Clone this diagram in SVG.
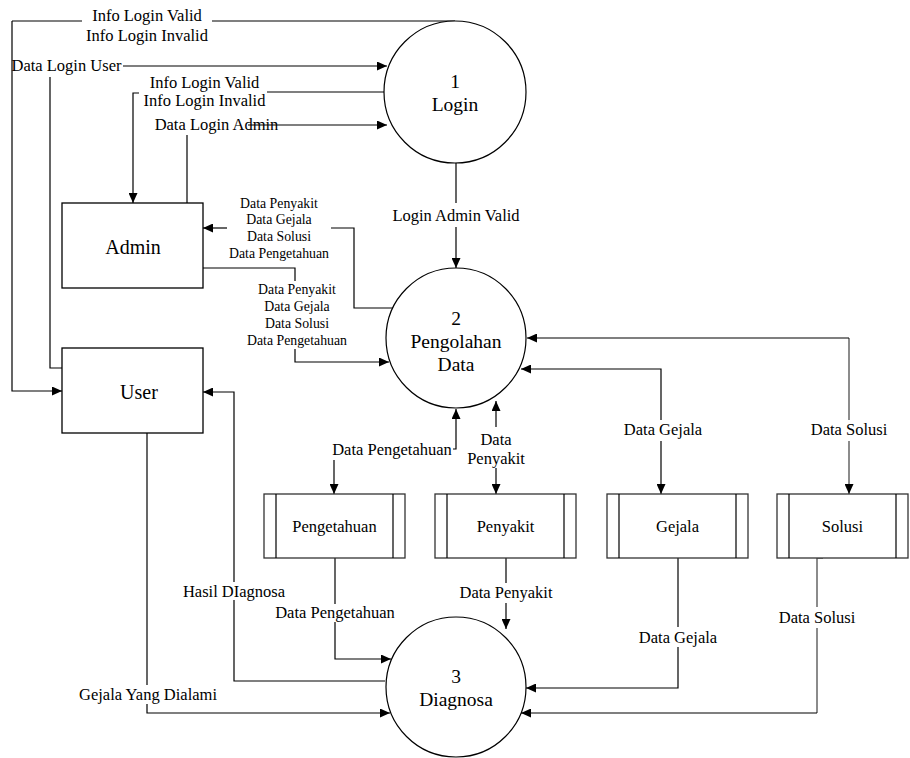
<svg xmlns="http://www.w3.org/2000/svg" width="910" height="758" viewBox="0 0 910 758" font-family="'Liberation Serif', 'DejaVu Serif', serif">
<defs>
<marker id="arr" markerUnits="userSpaceOnUse" markerWidth="11" markerHeight="9" refX="10" refY="4.5" orient="auto">
<path d="M0,0 L10,4.5 L0,9 z" fill="#000"/>
</marker>
<style>
text{font-family:'Liberation Serif','DejaVu Serif',serif;fill:#000;text-anchor:middle}
.lbl{font-size:16.5px}
.sm{font-size:13.8px}
.big{font-size:19.5px}
.ent{font-size:20px}
.box{fill:#fff;stroke:#000;stroke-width:1.3}
.store{fill:#fff;stroke:#333;stroke-width:1.3}
.proc{fill:#fff;stroke:#000;stroke-width:1.2}
.c{fill:none;stroke:#000;stroke-width:1.2}
.g{fill:none;stroke:#666;stroke-width:1.5}
.a{fill:none;stroke:#000;stroke-width:1.2;marker-end:url(#arr)}
</style>
</defs>
<rect width="910" height="758" fill="#fff"/>

<g id="connectors">
<path class="c" d="M455,21 H212 M82,21 H12"/>
<path class="a" d="M12,21 V391 H62"/>
<text class="lbl" x="147" y="21">Info Login Valid</text>
<text class="lbl" x="147" y="41">Info Login Invalid</text>
<path class="c" d="M62,368 H50 V77"/>
<text class="lbl" x="66.5" y="71">Data Login User</text>
<path class="a" d="M123,66 H387"/>
<path class="c" d="M385,92 H267"/>
<path class="a" d="M139,93 H133 V203"/>
<text class="lbl" x="204.5" y="88">Info Login Valid</text>
<text class="lbl" x="204.5" y="106">Info Login Invalid</text>
<path class="c" d="M187,203 V135"/>
<text class="lbl" x="216.5" y="130">Data Login Admin</text>
<path class="a" d="M248,125 H387"/>
<path class="c" d="M456,163 V203"/>
<text class="lbl" x="456" y="221">Login Admin Valid</text>
<path class="a" d="M456,227 V268"/>
<path class="c" d="M393,308 H354 V228 H331"/>
<path class="a" d="M227,228 H203"/>
<text class="sm" x="279" y="208">Data Penyakit</text>
<text class="sm" x="279" y="224">Data Gejala</text>
<text class="sm" x="279" y="241">Data Solusi</text>
<text class="sm" x="279" y="258">Data Pengetahuan</text>
<path class="c" d="M203,268 H295 V281"/>
<text class="sm" x="297" y="294">Data Penyakit</text>
<text class="sm" x="297" y="311">Data Gejala</text>
<text class="sm" x="297" y="328">Data Solusi</text>
<text class="sm" x="297" y="345">Data Pengetahuan</text>
<path class="a" d="M295,349 V362 H389"/>
<path class="a" d="M453,449 H456 V409"/>
<text class="lbl" x="392" y="455">Data Pengetahuan</text>
<path class="a" d="M334,460 V494"/>
<path class="a" d="M496,427 V401"/>
<text class="lbl" x="496" y="445">Data</text>
<text class="lbl" x="496" y="464">Penyakit</text>
<path class="a" d="M496,468 V494"/>
<path class="a" d="M661,420 V369 H521"/>
<text class="lbl" x="663" y="435">Data Gejala</text>
<path class="a" d="M661,441 V494"/>
<path class="g" d="M849,420 V338"/>
<path class="a" d="M849,338 H527"/>
<text class="lbl" x="849" y="435">Data Solusi</text>
<path class="a" d="M849,441 V494" style="stroke:#666;stroke-width:1.5"/>
<path class="c" d="M147,433 V685"/>
<text class="lbl" x="148" y="700">Gejala Yang Dialami</text>
<path class="a" d="M147,704 V713 H390"/>
<path class="c" d="M385,681 H234 V600"/>
<text class="lbl" x="234" y="597">Hasil DIagnosa</text>
<path class="a" d="M234,582 V392 H203"/>
<path class="c" d="M335,558 V604"/>
<text class="lbl" x="335" y="618">Data Pengetahuan</text>
<path class="a" d="M335,622 V659 H391"/>
<path class="c" d="M506,558 V583"/>
<text class="lbl" x="506" y="598">Data Penyakit</text>
<path class="a" d="M506,603 V629"/>
<path class="c" d="M678,558 V627"/>
<text class="lbl" x="678" y="643">Data Gejala</text>
<path class="a" d="M678,647 V688 H526"/>
<path class="g" d="M823,558 H817 V607 M817,628 V713"/>
<text class="lbl" x="817" y="623">Data Solusi</text>
<path class="a" d="M817,713 H521"/>
</g>

<g id="login">
<circle class="proc" cx="455" cy="92" r="71"/>
<text class="big" x="455" y="88">1</text>
<text class="big" x="455" y="111">Login</text>
</g>
<g id="pengolahan">
<circle class="proc" cx="456" cy="338" r="70"/>
<text class="big" x="456" y="325">2</text>
<text class="big" x="456" y="348">Pengolahan</text>
<text class="big" x="456" y="371">Data</text>
</g>
<g id="diagnosa">
<circle class="proc" cx="456" cy="687" r="70"/>
<text class="big" x="456" y="683">3</text>
<text class="big" x="456" y="706">Diagnosa</text>
</g>
<g id="admin">
<rect class="box" x="62" y="203" width="141" height="85"/>
<text class="ent" x="133" y="254">Admin</text>
</g>
<g id="user">
<rect class="box" x="62" y="348" width="141" height="85"/>
<text class="ent" x="139" y="399">User</text>
</g>
<g id="store-pengetahuan">
<rect class="store" x="264" y="494" width="141" height="64"/>
<path class="c" d="M276,494 V558 M393,494 V558"/>
<text class="lbl" x="334.5" y="532">Pengetahuan</text>
</g>
<g id="store-penyakit">
<rect class="store" x="435" y="494" width="141" height="64"/>
<path class="c" d="M447,494 V558 M564,494 V558"/>
<text class="lbl" x="505.5" y="532">Penyakit</text>
</g>
<g id="store-gejala">
<rect class="store" x="607" y="494" width="141" height="64"/>
<path class="c" d="M619,494 V558 M736,494 V558"/>
<text class="lbl" x="677.5" y="532">Gejala</text>
</g>
<g id="store-solusi">
<rect class="store" x="777" y="494" width="131" height="64"/>
<path class="c" d="M789,494 V558 M896,494 V558"/>
<text class="lbl" x="842.5" y="532">Solusi</text>
</g>
</svg>
